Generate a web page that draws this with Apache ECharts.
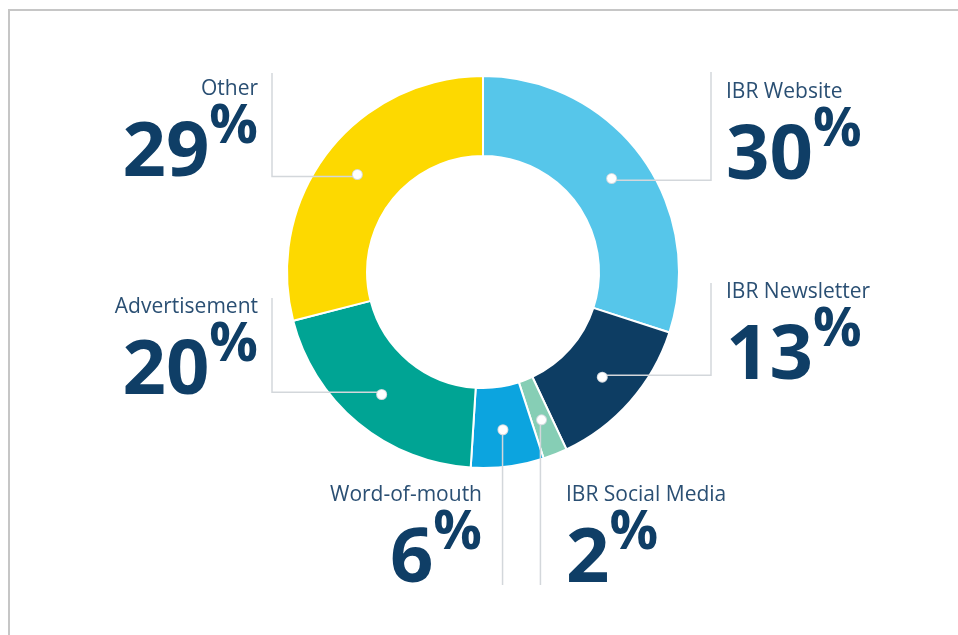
<!DOCTYPE html>
<html>
<head>
<meta charset="utf-8">
<script src="https://cdn.jsdelivr.net/npm/echarts@6/dist/echarts.min.js"></script>
<style>
  html, body { margin: 0; padding: 0; background: #fff; }
  #frame { position: absolute; left: 8px; top: 9px; width: 960px; height: 640px; border-top: 2px solid #c6c6c6; border-left: 2px solid #c6c6c6; }
  #chart { position: absolute; left: 0; top: 0; width: 958px; height: 635px; }
</style>
</head>
<body>
<div id="frame"></div>
<div id="chart"></div>
<script>
const sources = ["IBR Website", "IBR Newsletter", "IBR Social Media", "Word-of-mouth", "Advertisement", "Other"];
const shares = [30, 13, 2, 6, 20, 29];
const sliceColors = ["#56c6ea", "#0d3d63", "#86ceb5", "#0ca4df", "#00a494", "#fdd900"];

// where each callout sits (label anchor, elbow x, end of the leader line)
const callouts = [
  { x: 726, y: 80, align: "left", bendX: 711, endY: 72 },
  { x: 726, y: 280, align: "left", bendX: 711, endY: 283 },
  { x: 566, y: 483, align: "left", bendX: null, endY: 585 },
  { x: 482, y: 483, align: "right", bendX: null, endY: 585 },
  { x: 258, y: 295, align: "right", bendX: 272, endY: 298 },
  { x: 258, y: 77, align: "right", bendX: 272, endY: 73 },
];

const CX = 483;
const CY = 272;
const R_IN = 116;
const R_OUT = 196;
const R_MID = (R_IN + R_OUT) / 2;

const chart = echarts.init(document.getElementById("chart"));
const slices = sources.map((name, i) => ({ name, value: shares[i], itemStyle: { color: sliceColors[i] } }));
const plain = sources.map((name, i) => ({ name, value: shares[i] }));

function dotPoint(params) {
  const p = params.labelLinePoints[0];
  const k = R_MID / R_OUT;
  return [CX + (p[0] - CX) * k, CY + (p[1] - CY) * k];
}

const ring = { type: "pie", center: [CX, CY], radius: [R_IN, R_OUT], startAngle: 90, clockwise: true, silent: true };

chart.setOption({
  animation: false,
  series: [
    // the coloured ring
    {
      ...ring,
      z: 2,
      itemStyle: { borderColor: "#fff", borderWidth: 2 },
      label: { show: false },
      labelLine: { show: false },
      data: slices,
    },
    // callout text + leader lines, over the ring
    {
      ...ring,
      z: 3,
      avoidLabelOverlap: false,
      itemStyle: { color: "rgba(0,0,0,0)", borderWidth: 0 },
      label: {
        position: "outside",
        formatter: p => `{name|${p.name}}\n{num|${p.value}}{pct|%}`,
        rich: {
          name: { fontFamily: "Open Sans", fontSize: 21, lineHeight: 24, color: "#2a4f73" },
          num: { fontFamily: "Open Sans", fontWeight: 700, fontSize: 76, lineHeight: 106, color: "#0f3e66" },
          pct: { fontFamily: "Open Sans", fontWeight: 700, fontSize: 54, verticalAlign: "top", color: "#0f3e66" },
        },
      },
      labelLine: { show: true, smooth: false, lineStyle: { color: "#d3d7db", width: 1.5 } },
      labelLayout: params => {
        const spot = callouts[params.dataIndex];
        const dot = dotPoint(params);
        const points = spot.bendX === null
          ? [dot, [dot[0], spot.endY]]
          : [dot, [spot.bendX, dot[1]], [spot.bendX, spot.endY]];
        return { x: spot.x, y: spot.y, align: spot.align, verticalAlign: "top", labelLinePoints: points };
      },
      data: plain,
    },
    // white dots at the start of each leader line
    {
      ...ring,
      z: 4,
      itemStyle: { color: "rgba(0,0,0,0)", borderWidth: 0 },
      label: {
        position: "inside",
        formatter: " ",
        fontSize: 1,
        width: 9,
        height: 9,
        backgroundColor: "#ffffff",
        borderColor: "#d5dbe0",
        borderWidth: 1,
        borderRadius: 5,
      },
      labelLine: { show: false },
      data: plain,
    },
  ],
});
</script>
</body>
</html>
